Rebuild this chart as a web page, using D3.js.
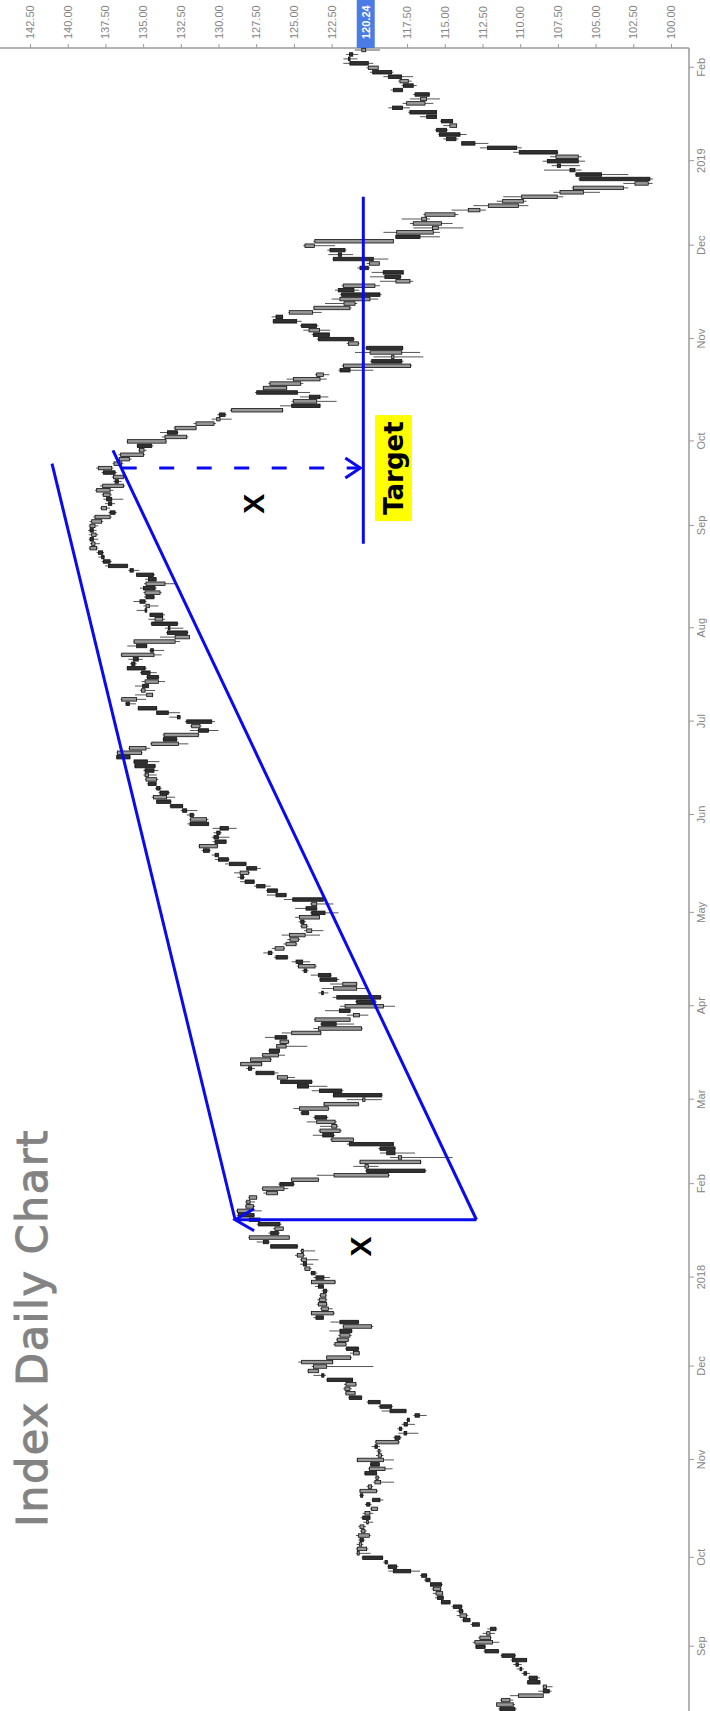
<!DOCTYPE html>
<html>
<head>
<meta charset="utf-8">
<script src="https://cdn.jsdelivr.net/npm/d3@7"></script>
<style>
  html, body { margin: 0; padding: 0; background: #ffffff; }
  svg { display: block; }
</style>
</head>
<body>
<svg id="chart" width="710" height="1711"></svg>
<script>
// ---- trading calendar -------------------------------------------------
const firstSession = "2017-08-14";
const lastSession = "2019-02-07";
const marketHolidays = [
  "2017-09-04", "2017-11-23", "2017-12-25", "2018-01-01", "2018-01-15",
  "2018-02-19", "2018-03-30", "2018-05-28", "2018-07-04", "2018-09-03",
  "2018-11-22", "2018-12-05", "2018-12-25", "2019-01-01", "2019-01-21"
];
const monthLabels = ["Sep", "Oct", "Nov", "Dec", "2018", "Feb", "Mar", "Apr", "May",
  "Jun", "Jul", "Aug", "Sep", "Oct", "Nov", "Dec", "2019", "Feb"];
const priceTicks = [100, 102.5, 105, 107.5, 110, 112.5, 115, 117.5, 120, 122.5,
  125, 127.5, 130, 132.5, 135, 137.5, 140, 142.5];
const lastPrice = 120.24;

// ---- daily OHLC ------------------------------------------------------
const openP = [
110.35,111.56,111.23,110.12,108.07,108.47,108.69,108.87,109.57,109.9,110.12,109.57,110.35,111.45,112.33,113.0,112.67,112.22,111.61,112.71,
113.33,113.99,113.81,113.88,114.65,115.1,115.58,115.76,115.21,115.98,116.2,117.26,118.19,118.81,119.12,120.8,120.8,120.67,120.4,120.73,
120.51,120.62,120.18,119.96,120.29,119.85,119.96,119.3,120.44,120.62,120.07,119.63,119.56,119.52,120.0,119.34,120.8,119.41,119.41,119.47,
119.56,117.97,117.52,117.86,117.48,117.35,116.68,117.57,118.52,119.29,120.51,121.55,121.62,121.55,121.11,123.01,124.05,123.71,124.49,122.83,
121.06,120.73,122.28,122.13,121.95,121.17,121.73,120.73,123.05,123.83,123.16,123.38,123.32,123.23,122.83,123.05,123.83,123.01,123.6,124.27,
124.16,124.49,124.78,124.49,124.78,126.7,127.96,126.04,126.26,125.93,127.25,127.65,128.75,128.18,128.13,127.96,126.81,127.07,125.04,125.15,
122.34,116.31,120.29,120.62,118.08,118.3,118.3,118.41,122.49,122.38,123.27,122.49,123.49,122.83,124.04,124.64,123.0,120.44,119.18,121.83,
124.04,123.82,126.1,126.32,127.8,128.53,127.87,127.07,125.96,126.14,125.92,125.48,125.15,123.38,122.2,123.6,121.06,121.28,121.61,119.62,
119.25,123.05,122.38,121.76,122.16,122.56,124.15,124.7,124.42,125.44,126.47,126.25,125.52,125.26,125.3,124.15,124.48,124.33,124.64,122.94,
123.49,123.82,123.05,125.52,126.1,126.92,127.64,128.35,128.57,127.47,128.18,129.35,130.01,130.61,131.27,129.5,130.01,129.9,129.35,130.67,
131.85,131.67,132.11,132.38,133.17,134.32,133.33,133.88,134.14,134.81,134.87,134.28,134.21,134.72,135.87,136.71,135.91,134.43,132.77,133.61,
130.67,131.78,130.45,132.55,133.33,134.1,135.91,136.42,134.76,135.1,134.65,134.87,133.99,134.54,134.87,135.54,135.32,136.42,134.32,134.76,
135.6,132.88,132.07,133.22,132.73,134.21,133.7,134.76,134.81,134.87,134.28,134.87,134.21,134.81,134.14,134.32,135.65,136.04,137.19,137.59,
137.68,138.52,138.41,138.3,138.41,138.3,138.52,138.41,138.19,136.86,137.75,137.08,137.08,137.64,138.08,137.68,136.64,136.97,136.86,137.97,
136.93,136.58,136.49,135.25,134.43,136.04,133.55,132.73,132.88,131.49,130.12,129.57,129.13,123.27,125.04,123.27,124.77,127.03,126.59,125.04,
123.49,121.28,121.72,117.85,118.52,119.95,117.79,121.39,121.06,122.65,124.0,123.5,124.82,125.75,125.31,123.67,121.68,121.95,119.3,121.02,
121.73,118.24,117.93,117.75,120.07,120.0,119.74,121.84,121.62,124.27,123.61,116.64,118.19,115.81,117.09,116.53,116.31,113.44,112.11,111.16,
109.9,107.36,106.48,102.39,101.4,104.6,106.37,107.32,106.15,107.63,107.54,110.23,113.0,114.26,113.99,114.88,114.66,114.48,115.54,115.54,
117.8,117.53,116.6,116.03,117.8,117.09,117.97,117.86,118.52,120.07,120.07,121.28,121.1,120.5
];
const highP = [
111.45,111.56,111.34,110.68,108.8,108.51,109.57,109.5,109.9,110.23,110.46,110.63,111.3,112.44,113.0,113.15,112.78,112.49,112.18,113.28,
113.88,114.21,114.21,114.54,115.27,115.65,115.8,115.87,115.98,116.38,116.64,118.74,118.81,119.07,120.51,120.89,120.89,120.84,120.73,120.89,
120.62,120.73,120.4,120.58,120.44,119.96,120.29,119.85,120.66,120.66,120.18,119.74,119.63,120.36,120.07,119.96,120.84,119.56,119.52,119.85,
119.63,118.41,118.08,118.15,117.86,117.57,117.08,119.19,119.4,120.18,121.4,121.62,121.73,121.68,122.88,123.71,124.11,123.83,124.71,122.88,
121.28,121.62,122.39,122.21,122.06,122.65,121.77,122.57,123.71,123.89,123.27,123.49,123.45,123.32,123.16,123.6,123.87,123.71,123.94,124.33,
124.6,124.6,124.93,124.6,126.59,127.47,128.02,126.7,126.37,127.47,128.58,128.8,128.84,128.24,128.24,128.02,127.03,127.14,126.04,125.22,
123.49,120.29,121.06,120.67,118.63,119.29,119.4,121.5,122.6,123.75,123.38,123.27,124.15,123.71,124.59,125.04,123.05,121.5,122.43,123.82,
124.81,125.92,126.14,127.58,128.17,128.57,127.91,127.14,126.7,126.19,125.96,126.92,125.81,123.71,123.27,123.67,121.5,122.94,121.94,120.95,
122.43,123.38,123.16,122.6,123.31,123.89,124.48,124.81,125.15,126.32,127.03,126.47,125.7,125.44,125.81,124.33,124.59,124.7,124.92,123.93,
124.92,123.93,125.66,126.8,126.85,127.64,128.57,128.75,128.97,128.18,129.57,130.23,130.45,131.12,131.34,130.39,130.45,130.34,130.39,132.07,
131.94,132.11,132.51,133.26,134.14,134.43,133.99,134.21,134.76,134.87,134.98,134.98,135.6,135.65,136.8,136.75,135.98,134.54,133.7,133.7,
131.89,131.89,132.22,133.26,134.14,135.38,136.2,136.49,135.54,135.21,135.54,135.1,134.81,135.21,136.09,135.87,135.98,136.49,134.59,136.05,
135.65,133.88,133.48,133.55,134.5,134.65,134.59,135.43,134.98,135.65,134.94,134.98,135.21,134.94,134.87,135.47,135.98,137.53,137.75,137.97,
138.08,138.6,138.52,138.6,138.6,138.65,138.6,138.55,138.3,137.3,137.86,137.53,137.64,137.75,138.19,137.86,136.97,137.08,137.75,138.12,
137.02,136.75,136.64,135.32,135.43,136.09,133.77,133.88,132.99,131.67,130.45,130.08,129.24,125.92,125.15,124.6,127.58,127.07,126.7,125.48,
123.6,122.05,121.83,119.95,119.73,120.95,120.29,121.5,123.49,123.82,124.38,124.6,126.41,126.48,125.37,123.72,122.94,122.5,121.95,122.28,
121.84,119.3,119.96,119.85,120.8,120.18,122.44,122.72,122.79,124.38,123.72,118.3,119.07,117.09,117.31,117.86,116.42,114.54,113.1,111.56,
111.12,107.8,106.59,103.16,106.15,106.37,108.42,107.91,108.51,108.02,110.46,112.67,113.88,115.1,115.43,115.65,115.1,115.32,116.64,117.42,
118.74,117.8,117.31,117.09,118.59,117.86,118.08,119.07,119.96,120.18,121.73,121.72,121.54,120.95
];
const lowP = [
110.23,110.35,110.46,108.47,107.91,107.85,108.64,108.69,109.35,109.75,109.9,109.53,110.28,111.38,112.27,111.38,111.89,111.67,111.52,112.67,
113.28,113.44,113.73,113.81,114.61,115.05,115.1,115.21,115.14,115.94,116.16,116.64,118.08,118.74,119.07,119.91,120.07,120.4,120.29,119.91,
120.18,120.22,119.74,119.91,119.74,119.41,119.85,119.07,120.36,119.41,119.74,118.37,119.3,119.47,118.46,119.3,118.37,119.07,119.19,119.3,
117.97,117.86,116.75,117.75,116.97,117.3,116.2,117.52,118.45,119.25,120.47,120.89,121.17,120.84,121.06,122.88,123.32,119.74,122.39,121.17,
120.62,120.67,121.51,121.33,121.17,121.11,119.74,120.67,123.01,122.28,122.43,122.77,122.79,122.83,122.72,123.01,122.21,122.61,123.45,123.83,
123.71,123.38,124.27,123.6,124.71,126.59,125.26,125.93,125.66,125.82,127.14,127.58,127.14,127.58,127.58,127.43,126.04,125.37,124.93,123.32,
118.63,116.2,119.4,116.53,114.48,116.97,118.24,118.37,121.01,122.27,121.83,122.05,122.16,122.72,123.97,122.65,120.66,119.18,119.11,121.72,
122.78,123.75,124.93,126.03,127.58,127.07,126.47,125.59,125.92,124.11,125.3,125.43,123.16,120.44,121.01,121.24,120.07,121.24,118.3,119.51,
119.18,122.72,120.18,120.79,121.99,122.49,124.04,123.49,123.93,125.37,126.36,125.59,124.77,124.59,123.27,123.05,124.04,124.2,123.27,122.05,
123.44,122.38,123.0,125.48,126.03,126.54,127.58,128.24,127.91,127.2,128.13,129.28,129.95,130.52,130.01,129.46,129.28,129.79,128.8,130.61,
130.67,131.56,131.4,132.33,133.11,132.88,133.22,133.77,134.1,133.99,134.1,133.99,134.14,133.92,135.82,135.03,134.54,132.0,132.73,131.27,
130.01,131.12,130.23,132.51,132.55,134.06,135.47,134.81,134.32,134.21,134.59,133.55,133.92,134.1,134.76,135.43,135.03,133.77,133.61,134.72,
132.55,131.89,132.0,132.33,132.66,133.55,133.55,134.72,133.99,134.76,134.21,133.77,134.1,132.88,134.1,134.21,135.25,135.98,137.08,137.53,
137.59,137.97,137.86,137.97,137.97,138.08,137.97,137.64,137.08,136.75,137.19,136.86,136.31,137.08,136.97,136.2,136.42,136.2,136.75,136.97,
136.31,135.76,134.87,134.76,134.32,133.44,132.0,132.66,131.45,130.17,129.13,129.46,125.7,123.23,122.17,122.72,123.93,125.44,124.38,122.83,
122.65,119.73,117.19,117.74,116.42,116.64,117.74,120.66,120.95,122.61,122.6,123.39,124.49,125.71,123.16,121.18,120.8,119.41,119.19,120.67,
119.3,117.09,117.86,117.75,119.96,119.3,118.74,121.07,121.51,122.28,118.41,115.32,115.32,113.77,114.48,115.98,114.1,112.27,109.46,109.57,
107.14,104.71,102.83,101.22,101.18,102.83,105.93,106.04,105.7,105.93,107.47,109.9,112.11,114.1,113.55,114.77,114.21,114.43,115.54,115.54,
117.31,115.76,115.32,115.98,117.75,116.86,117.2,117.09,118.41,119.41,119.74,120.79,120.73,119.29
];
const closeP = [
111.34,110.46,110.68,108.47,108.47,108.25,109.5,109.4,109.75,110.01,110.28,110.52,111.21,112.33,112.93,111.83,111.96,112.0,111.96,113.17,
113.77,113.55,114.04,114.43,115.21,115.49,115.14,115.27,115.94,116.25,116.53,118.41,118.74,118.96,120.44,120.67,120.18,120.51,120.62,120.0,
120.29,120.36,120.07,120.44,119.96,119.47,120.18,119.78,120.58,119.52,119.85,119.25,119.41,120.29,118.96,119.91,119.07,119.19,119.3,119.63,
118.08,118.3,117.7,118.01,117.7,117.48,116.97,118.63,119.29,120.07,121.33,120.95,121.29,120.89,122.79,123.16,123.38,122.83,122.43,121.24,
120.67,121.51,121.55,121.4,121.29,121.95,119.85,121.95,123.54,122.39,122.72,122.83,122.88,122.88,123.05,123.38,122.28,123.54,123.83,123.94,
124.38,124.16,124.38,124.38,126.54,127.03,125.31,126.54,125.71,127.36,127.96,128.69,127.91,127.69,127.91,127.47,126.1,125.66,125.93,123.38,
118.74,120.18,120.07,116.6,117.86,118.85,119.29,121.33,121.06,123.09,121.94,122.16,122.27,123.6,124.48,122.72,120.73,120.29,122.38,123.31,
124.77,125.88,125.43,127.51,128.02,127.14,126.54,126.03,126.63,125.52,125.37,126.25,123.22,120.51,123.16,121.28,120.66,121.99,119.07,120.84,
122.16,123.16,120.84,120.84,123.27,123.38,124.33,123.6,124.86,126.19,126.7,125.66,124.86,124.7,124.26,123.82,124.15,124.55,123.31,123.82,
124.2,123.49,125.08,126.19,126.76,127.47,128.24,128.53,128.02,128.13,129.28,130.01,130.23,131.0,130.08,130.23,130.3,130.12,129.9,131.89,
130.79,131.89,132.38,133.17,134.1,133.44,133.88,134.1,134.65,134.1,134.65,134.87,135.54,135.6,136.75,135.1,134.81,132.66,133.66,131.34,
131.34,131.23,132.11,132.73,134.1,135.32,136.13,135.43,134.37,134.87,135.03,133.99,134.72,135.1,136.05,135.76,135.65,134.28,134.5,135.43,
132.88,131.93,133.39,133.33,134.43,133.7,134.54,134.87,134.59,135.21,134.81,133.88,134.98,133.55,134.65,135.43,135.87,137.3,137.64,137.75,
137.97,138.08,138.19,138.52,138.12,138.52,138.19,137.75,137.19,137.19,137.42,137.3,137.42,137.19,137.19,136.31,136.86,136.31,137.64,137.08,
136.42,135.91,134.98,134.94,135.38,133.48,132.11,133.39,131.49,130.3,129.9,129.95,125.75,125.15,123.49,123.98,127.47,125.48,124.55,123.27,
123.05,121.94,117.26,119.84,118.37,117.85,120.18,120.73,123.38,123.71,123.3,124.49,126.37,126.19,123.76,121.29,120.95,119.96,121.84,122.06,
119.63,117.31,118.97,119.08,120.62,119.34,122.39,122.06,122.61,123.65,118.41,118.24,115.76,115.43,115.21,116.2,114.32,112.67,110.12,109.79,
107.54,105.81,103.16,101.51,106.04,106.3,106.7,107.54,108.2,106.15,110.06,112.16,113.88,114.88,115.36,115.54,114.21,115.21,116.2,117.31,
118.46,116.31,116.2,116.97,118.41,117.75,117.42,118.74,119.78,119.41,121.29,121.39,121.32,120.24
];

// ---- drawn annotations (session, price) -------------------------------
const channelUpper = [["2018-01-22", 128.9], ["2018-09-24", 141.04]];
const channelLower = [["2018-01-22", 112.9], ["2018-09-27", 137.0]];
const baseMeasure = [["2018-01-22", 112.9], ["2018-01-22", 128.9]];
const projection = [["2018-09-21", 136.42], ["2018-09-21", 120.6]];
const targetPrice = 120.4;
const targetSpan = ["2018-08-28", "2018-12-19"];
const targetLabel = ["2018-09-21", 118.4];
const xMarks = [["2018-09-11", 127.7], ["2018-01-11", 120.6]];

// ---- layout ---------------------------------------------------------------
const W = 710, H = 1711;           // page size
const priceAxisAt = 1663;          // time coordinate of the price axis
const dateAxisAt = 689;            // price coordinate of the date axis
const blue = "#0a0af0";
const axisGrey = "#9a9a9a";
const textGrey = "#858585";

const fmtDay = d3.utcFormat("%Y-%m-%d");
const sessions = d3.utcDays(new Date(firstSession), d3.utcDay.offset(new Date(lastSession), 1))
  .filter(d => d.getUTCDay() % 6 !== 0 && !marketHolidays.includes(fmtDay(d)))
  .map(fmtDay);

const candles = sessions.map((s, i) => ({
  date: s, o: openP[i], h: highP[i], l: lowP[i], c: closeP[i]
})).filter(d => d.o !== undefined);

const x = d3.scalePoint().domain(sessions).range([2, 1661]);
const y = d3.scaleLinear().domain([100, 142.5]).range([671, 30]);

const svg = d3.select("#chart");
svg.append("rect").attr("width", W).attr("height", H).attr("fill", "#fff");

// whole chart is laid out horizontally, then turned a quarter to the left
const g = svg.append("g").attr("transform", `translate(0,${H}) rotate(-90)`);

// title
g.append("text")
  .attr("x", 184).attr("y", 47)
  .attr("font-family", "DejaVu Sans, Verdana, sans-serif")
  .attr("font-size", 43)
  .attr("letter-spacing", 1.5)
  .attr("fill", "#838383")
  .attr("stroke", "#838383").attr("stroke-width", 1)
  .text("Index Daily Chart");

// frame lines
g.append("line").attr("x1", priceAxisAt).attr("x2", priceAxisAt).attr("y1", 0).attr("y2", dateAxisAt)
  .attr("stroke", axisGrey).attr("stroke-width", 1.5);
g.append("line").attr("x1", 0).attr("x2", priceAxisAt).attr("y1", dateAxisAt).attr("y2", dateAxisAt)
  .attr("stroke", axisGrey).attr("stroke-width", 1.5);

// price axis
const priceAxis = d3.axisRight(y).tickValues(priceTicks).tickFormat(d3.format(".2f"))
  .tickSize(4).tickPadding(5);
const pa = g.append("g").attr("transform", `translate(${priceAxisAt},0)`).call(priceAxis);
pa.select(".domain").remove();
pa.selectAll(".tick line").attr("stroke", axisGrey);
pa.selectAll(".tick text").attr("fill", textGrey)
  .attr("font-family", "Liberation Sans, Arial, sans-serif").attr("font-size", 11);

// date axis: first session of each month after the opening one
const monthStarts = sessions.filter((s, i) => i > 0 && s.slice(0, 7) !== sessions[i - 1].slice(0, 7));
const dateAxis = d3.axisBottom(x).tickValues(monthStarts)
  .tickFormat((d, i) => monthLabels[i]).tickSize(5).tickPadding(3);
const da = g.append("g").attr("transform", `translate(0,${dateAxisAt})`).call(dateAxis);
da.select(".domain").remove();
da.selectAll(".tick line").attr("stroke", axisGrey);
da.selectAll(".tick text").attr("fill", textGrey)
  .attr("font-family", "Liberation Sans, Arial, sans-serif").attr("font-size", 11);

// last price marker
const lp = g.append("g");
lp.append("rect")
  .attr("x", priceAxisAt).attr("y", y(lastPrice) - 9)
  .attr("width", H - priceAxisAt).attr("height", 18)
  .attr("fill", "#4b7be4");
lp.append("text")
  .attr("x", priceAxisAt + 9).attr("y", y(lastPrice)).attr("dy", "0.35em")
  .attr("fill", "#fff").attr("font-weight", "bold")
  .attr("font-family", "Liberation Sans, Arial, sans-serif").attr("font-size", 11)
  .text(d3.format(".2f")(lastPrice));

// candles
const bodyW = 3.5;
const cg = g.append("g");
cg.selectAll("line.wick").data(candles).join("line")
  .attr("class", "wick")
  .attr("x1", d => x(d.date)).attr("x2", d => x(d.date))
  .attr("y1", d => y(d.h)).attr("y2", d => y(d.l))
  .attr("stroke", "#555").attr("stroke-width", 1);
cg.selectAll("rect.body").data(candles).join("rect")
  .attr("class", "body")
  .attr("x", d => x(d.date) - bodyW / 2)
  .attr("width", bodyW)
  .attr("y", d => Math.min(y(d.o), y(d.c)))
  .attr("height", d => Math.max(Math.abs(y(d.o) - y(d.c)), 1.5))
  .attr("fill", d => d.c >= d.o ? "#303030" : "#979797")
  .attr("stroke", "#111").attr("stroke-width", 0.8);

// annotations
const pt = d => [x(d[0]), y(d[1])];
const ann = g.append("g").attr("fill", "none").attr("stroke", blue).attr("stroke-width", 3);

function segment(pair, dash) {
  const [a, b] = pair.map(pt);
  const l = ann.append("line").attr("x1", a[0]).attr("y1", a[1]).attr("x2", b[0]).attr("y2", b[1]);
  if (dash) l.attr("stroke-dasharray", dash);
}
function arrowHead(pair, len, half) {
  const [a, b] = pair.map(pt);
  const dx = b[0] - a[0], dy = b[1] - a[1], n = Math.hypot(dx, dy);
  const ux = dx / n, uy = dy / n;
  const bx = b[0] - ux * len, by = b[1] - uy * len;
  ann.append("path")
    .attr("d", `M${bx - uy * half},${by + ux * half}L${b[0]},${b[1]}L${bx + uy * half},${by - ux * half}`)
    .attr("stroke-linejoin", "miter");
}

segment(channelUpper);
segment(channelLower);
segment(baseMeasure);
arrowHead(baseMeasure, 19, 11);
segment(projection, "15 22.5");
arrowHead(projection, 15, 10);
segment([[targetSpan[0], targetPrice], [targetSpan[1], targetPrice]]);

// target label
const tl = pt(targetLabel);
g.append("rect")
  .attr("x", tl[0] - 53).attr("y", tl[1] - 18.5)
  .attr("width", 106).attr("height", 37)
  .attr("fill", "#ffff00");
g.append("text")
  .attr("x", tl[0]).attr("y", tl[1]).attr("dy", "0.36em")
  .attr("text-anchor", "middle")
  .attr("font-family", "DejaVu Sans, sans-serif").attr("font-weight", "bold")
  .attr("font-size", 26).attr("fill", "#000")
  .text("Target");

// measured-move marks
g.selectAll("text.xmark").data(xMarks).join("text")
  .attr("class", "xmark")
  .attr("x", d => pt(d)[0]).attr("y", d => pt(d)[1]).attr("dy", "0.36em")
  .attr("text-anchor", "middle")
  .attr("font-family", "Liberation Sans, Arial, sans-serif").attr("font-weight", "bold")
  .attr("font-size", 30).attr("fill", "#000")
  .text("X");
</script>
</body>
</html>
